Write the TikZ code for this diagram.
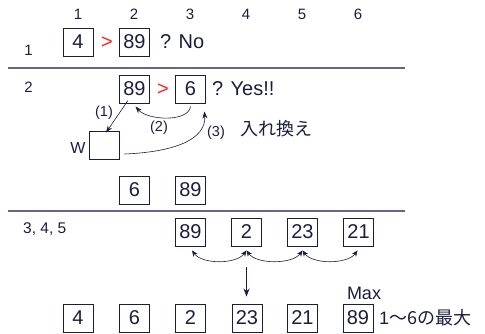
\documentclass[tikz,border=0pt]{standalone}
\usepackage{fontspec}
\setmainfont{Liberation Sans}
\newfontfamily\jpfont{Noto Sans CJK JP}
\usetikzlibrary{arrows.meta,calc}
\definecolor{ink}{HTML}{1C1C40}
\definecolor{rule}{HTML}{66668A}
\definecolor{gtred}{HTML}{FF2020}
\begin{document}
\begin{tikzpicture}[x=1pt,y=-1pt,
  every node/.style={text=ink},
  cell/.style={draw=ink,line width=0.9pt,minimum width=30pt,minimum height=28pt,inner sep=0pt,font=\fontsize{20}{24}\selectfont},
  big/.style={font=\fontsize{20}{24}\selectfont,inner sep=0pt},
  mid/.style={font=\fontsize{18}{22}\selectfont,inner sep=0pt},
  small/.style={font=\fontsize{15}{18}\selectfont,inner sep=0pt},
  tiny/.style={font=\fontsize{14.5}{17}\selectfont,inner sep=0pt},
  gt/.style={font=\fontsize{20}{24}\selectfont,inner sep=0pt,text=gtred},
  sep/.style={draw=rule,line width=1.4pt},
  arr/.style={draw=ink,line width=0.6pt,-{Stealth[length=7pt,width=5pt]}},
  darr/.style={draw=ink,line width=0.6pt,{Stealth[length=6pt,width=5pt]}-{Stealth[length=6pt,width=5pt]}},
  thick arr/.style={draw=ink,line width=1.8pt,-{Stealth[length=8pt,width=6pt]}}]
\useasboundingbox (0,0) rectangle (485,333);
% column headers
\foreach \i/\x in {1/78,2/134,3/190,4/246,5/302,6/358}
  \node[small] (h\i) at (\x,14) {\i};
% separators
\coordinate (s1a) at (8,68); \coordinate (s1b) at (405,68);
\coordinate (s2a) at (8,211); \coordinate (s2b) at (405,211);
\draw[sep] (s1a) -- (s1b);
\draw[sep] (s2a) -- (s2b);
% row 1
\node[small] (l1) at (28.5,50.5) {1};
\node[cell] (r1a) at (78,42) {4};
\node[gt] (g1) at (107,43) {>};
\node[cell] (r1b) at (134.5,42) {89};
\node[big,anchor=west] (q1) at (160,42) {? No};
% row 2
\node[small] (l2) at (28.5,87) {2};
\node[cell] (r2a) at (134.5,89) {89};
\node[gt] (g2) at (163,90) {>};
\node[cell] (r2b) at (190.5,89) {6};
\node[big,anchor=west] (q2) at (212,89) {? Yes!!};
\node[cell] (w) at (104,145) {};
\node[font=\fontsize{16}{19}\selectfont,inner sep=0pt] (wl) at (78,147.5) {W};
\node[tiny] (p1) at (104,113) {(1)};
\node[tiny] (p2) at (159,128) {(2)};
\node[tiny] (p3) at (216,133) {(3)};
\node[mid,anchor=west] (swap) at (240,129) {\jpfont 入れ換え};
\draw[arr] ($(r2a.south)+(-6.5pt,3pt)$) -- ($(w.north)+(2pt,-2pt)$);
\draw[arr] ($(r2b.south)+(0pt,-3pt)$) .. controls +(-2pt,-16pt) and +(12pt,-14pt) .. ($(r2a.south)+(1pt,-3pt)$);
\draw[arr] ($(w.east)+(5pt,-9pt)$) .. controls +(50pt,2pt) and +(2pt,-28pt) .. ($(r2b.south east)+(-1.5pt,-8pt)$);
\node[cell] (r2c) at (134.5,190) {6};
\node[cell] (r2d) at (190.5,190) {89};
% row 3
\node[font=\fontsize{15.5}{18}\selectfont,inner sep=0pt,anchor=west] (l3) at (23,229) {3, 4, 5};
\node[cell] (r3a) at (190.5,232) {89};
\node[cell] (r3b) at (246.5,232) {2};
\node[cell] (r3c) at (302.5,232) {23};
\node[cell] (r3d) at (358.5,232) {21};
\draw[darr] ($(r3a.south)+(1.5pt,-4pt)$) .. controls +(10pt,-14pt) and +(-10pt,-14pt) .. ($(r3b.south)+(0pt,-4pt)$);
\draw[darr] ($(r3b.south)+(0pt,-4pt)$) .. controls +(10pt,-14pt) and +(-10pt,-14pt) .. ($(r3c.south)+(0pt,-4pt)$);
\draw[darr] ($(r3c.south)+(0pt,-4pt)$) .. controls +(10pt,-14pt) and +(-10pt,-14pt) .. ($(r3d.south)+(-1pt,-4pt)$);
% bottom row
\node[cell] (r4a) at (78,318) {4};
\node[cell] (r4b) at (134.5,318) {6};
\node[cell] (r4c) at (190.5,318) {2};
\node[cell] (r4d) at (247,318) {23};
\node[cell] (r4e) at (302.5,318) {21};
\node[cell] (r4f) at (358,318) {89};
\node[mid] (max) at (364,293) {Max};
\node[mid,anchor=west] (res) at (379,318) {1\jpfont ～6の最大};
\draw[thick arr] ($(r3b.south)+(0pt,-21pt)$) -- ($(r4d.north)+(-0.5pt,7pt)$);
\end{tikzpicture}
\end{document}
